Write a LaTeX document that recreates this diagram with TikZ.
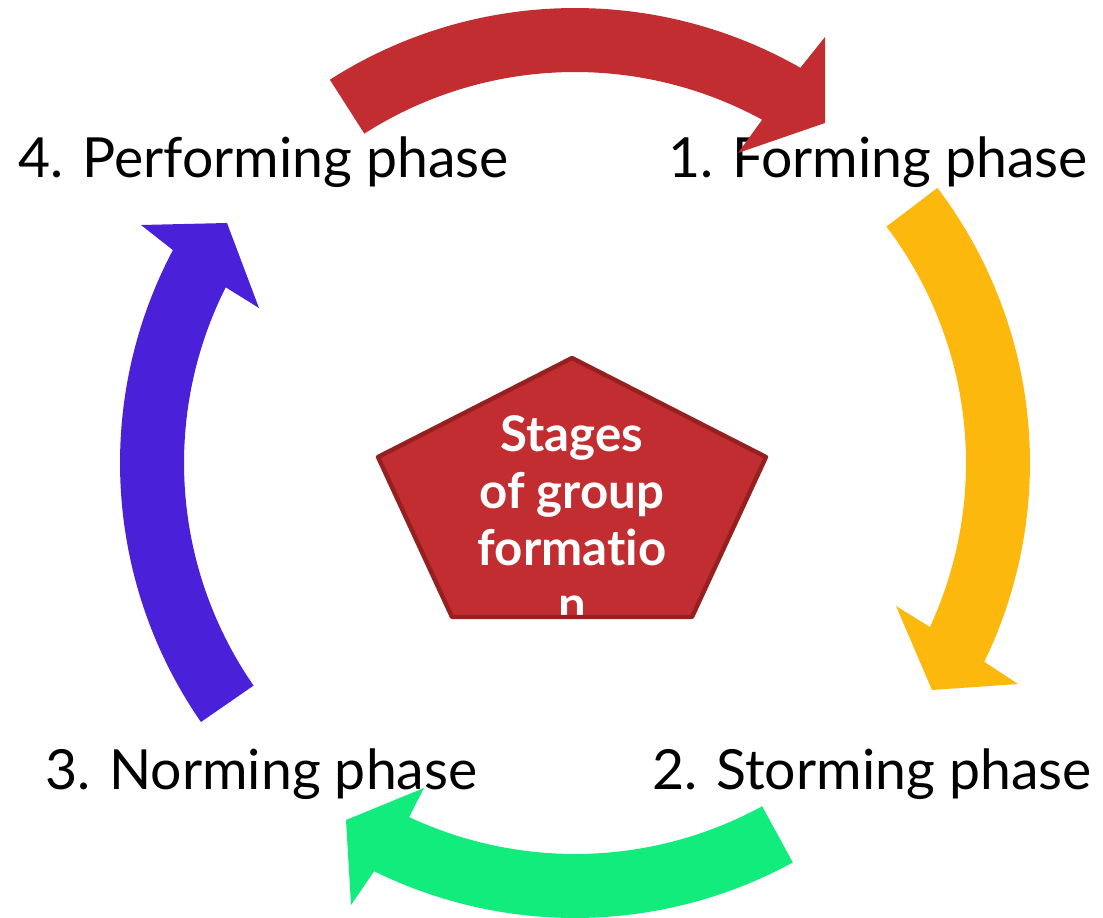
\documentclass[tikz,border=0pt]{standalone}
\usepackage{fontspec}
\setmainfont{Lato}
\usetikzlibrary{positioning,calc}
\definecolor{formred}{RGB}{193,45,48}
\definecolor{stormyellow}{RGB}{253,184,14}
\definecolor{normgreen}{RGB}{18,236,124}
\definecolor{performblue}{RGB}{74,33,216}
\definecolor{hubedge}{RGB}{150,32,32}
\tikzset{
  phase/.style={anchor=base west,inner sep=0pt,font=\fontsize{31.5}{38}\selectfont},
  cyclearrow/.style={fill=#1,draw=none}
}

\begin{document}
\begin{tikzpicture}[x=0.02cm,y=-0.02cm]
\useasboundingbox (0,0) rectangle (1103,918);
\coordinate (c) at (575,463);
% phase labels
\node[phase] (perform) at (18,178) {4. Performing phase};
\node[phase] (form) at (668,178) {1. Forming phase};
\node[phase] (norm) at (45,790) {3. Norming phase};
\node[phase] (storm) at (652,790) {2. Storming phase};
% arrows round the circle
\fill[cyclearrow=formred] ($(c)+(-122.6:455)$) arc[start angle=-122.6,end angle=-60.3,radius=455]
  -- (825,37) -- (825,123) -- (738,153) -- ($(c)+(-61.4:391)$)
  arc[start angle=-61.4,end angle=-122.6,radius=391] -- cycle;
\fill[cyclearrow=stormyellow] ($(c)+(-37.2:455)$) arc[start angle=-37.2,end angle=25.9,radius=455]
  -- (1018,684) -- (932,690) -- (896,606) -- ($(c)+(24.8:391)$)
  arc[start angle=24.8,end angle=-37.2,radius=391] -- cycle;
\fill[cyclearrow=normgreen] ($(c)+(61.4:455)$) arc[start angle=61.4,end angle=116.2,radius=455]
  -- (351,905) -- (346,820) -- (424,788) -- ($(c)+(115.1:391)$)
  arc[start angle=115.1,end angle=61.4,radius=391] -- cycle;
\fill[cyclearrow=performblue] ($(c)+(145.3:455)$) arc[start angle=145.3,end angle=207.9,radius=455]
  -- (141,225) -- (227,223) -- (259,308) -- ($(c)+(206.7:391)$)
  arc[start angle=206.7,end angle=145.3,radius=391] -- cycle;
% centre pentagon
\fill[formred] (572,358) -- (766,457) -- (692,617) -- (452,617) -- (378,457) -- cycle;
\begin{scope}
\clip (572,358) -- (766,457) -- (692,617) -- (452,617) -- (378,457) -- cycle;
\node[text=white,font=\fontsize{28}{32.3}\selectfont\bfseries,align=center,anchor=base] (hub) at (572,622) {Stages\\of group\\format\kern0pt io\\n};
\end{scope}
\draw[hubedge,line width=2.5pt,line join=round] (572,358) -- (766,457) -- (692,617) -- (452,617) -- (378,457) -- cycle;
\end{tikzpicture}
\end{document}
